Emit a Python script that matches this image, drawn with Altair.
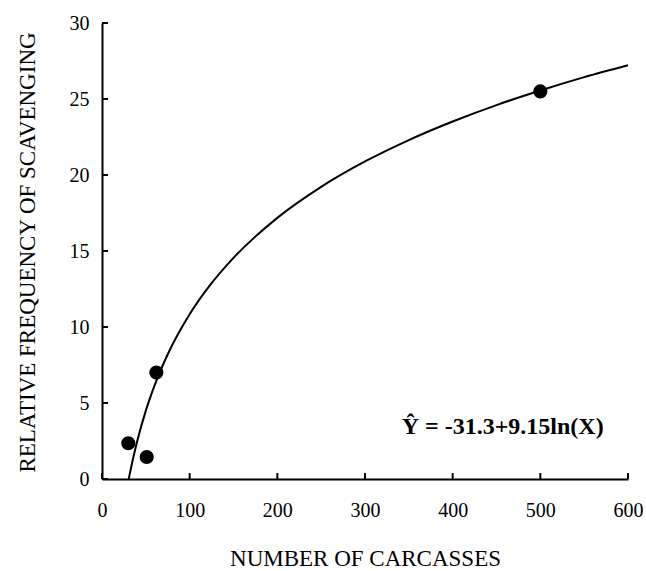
import altair as alt
import pandas as pd

carcasses = [30, 51, 62, 500]
scavenging = [2.35, 1.45, 7.0, 25.5]

# Fitted curve
curve_x = [30.5, 35, 40, 50, 60, 75, 100, 125, 150, 200, 250, 300, 350, 400, 450, 500, 550, 600]
curve_y = [0.0, 1.23, 2.45, 4.50, 6.16, 8.21, 10.84, 12.88, 14.55, 17.18, 19.22, 20.89,
           22.30, 23.52, 24.60, 25.56, 26.44, 27.23]

x_ticks = [0, 100, 200, 300, 400, 500, 600]
y_ticks = [0, 5, 10, 15, 20, 25, 30]

x_title = "NUMBER OF CARCASSES"
y_title = "RELATIVE FREQUENCY OF SCAVENGING"
equation = "Ŷ = -31.3+9.15ln(X)"
eq_x = 457
eq_y = 2.96

FONT = "Liberation Serif"

pts = pd.DataFrame({"x": carcasses, "y": scavenging})
crv = pd.DataFrame({"x": curve_x, "y": curve_y})
xt = pd.DataFrame({"x": x_ticks})
yt = pd.DataFrame({"y": y_ticks})

xscale = alt.Scale(domain=[0, 600], nice=False, zero=False)
yscale = alt.Scale(domain=[0, 30], nice=False, zero=False)

x_axis = alt.Axis(values=x_ticks, title=x_title, grid=False, ticks=False, tickSize=0,
                  labelPadding=21, labelFontSize=20, labelFont=FONT, labelColor="black",
                  titleFont=FONT, titleFontSize=23, titleFontWeight="normal", titleColor="black",
                  titleBaseline="alphabetic", titleY=86,
                  domainColor="black", domainWidth=2, labelFlush=False)
y_axis = alt.Axis(values=y_ticks, title=y_title, grid=False, ticks=False, tickSize=0,
                  labelPadding=13, labelFontSize=20, labelFont=FONT, labelColor="black",
                  titleFont=FONT, titleFontSize=23, titleFontWeight="normal", titleColor="black",
                  titleBaseline="alphabetic", titleAngle=270, titleAlign="center",
                  titleX=-68, titleY=229,
                  domainColor="black", domainWidth=2, labelFlush=False)

X = alt.X("x:Q", scale=xscale, axis=x_axis, title=x_title)
Y = alt.Y("y:Q", scale=yscale, axis=y_axis, title=y_title)

line = alt.Chart(crv).mark_line(color="black", strokeWidth=2, clip=True,
                                interpolate="monotone").encode(x=X, y=Y)

points = alt.Chart(pts).mark_circle(color="black", size=200, opacity=1).encode(x=X, y=Y)

yticks = alt.Chart(yt).mark_rule(color="black", strokeWidth=2).encode(
    y=Y,
    x=alt.value(0),
    x2=alt.value(6),
)

xticks = alt.Chart(xt).mark_rule(color="black", strokeWidth=2).encode(
    x=X,
    y=alt.value(456),
    y2=alt.value(450),
)

label = alt.Chart(pts).mark_text(
    text=equation, font=FONT, fontSize=24, fontWeight="bold", color="black",
    align="center", baseline="alphabetic"
).encode(
    x=alt.datum(eq_x),
    y=alt.datum(eq_y),
).transform_filter(alt.datum.x == carcasses[0])

chart = alt.layer(line, points, yticks, xticks, label).properties(
    width=526, height=456,
    autosize=alt.AutoSizeParams(type="none"),
    padding={"left": 102, "top": 23, "right": 18, "bottom": 92},
    background="white",
).configure_view(stroke=None)

chart.save("out.html", embed_options={"renderer": "svg", "actions": False})
